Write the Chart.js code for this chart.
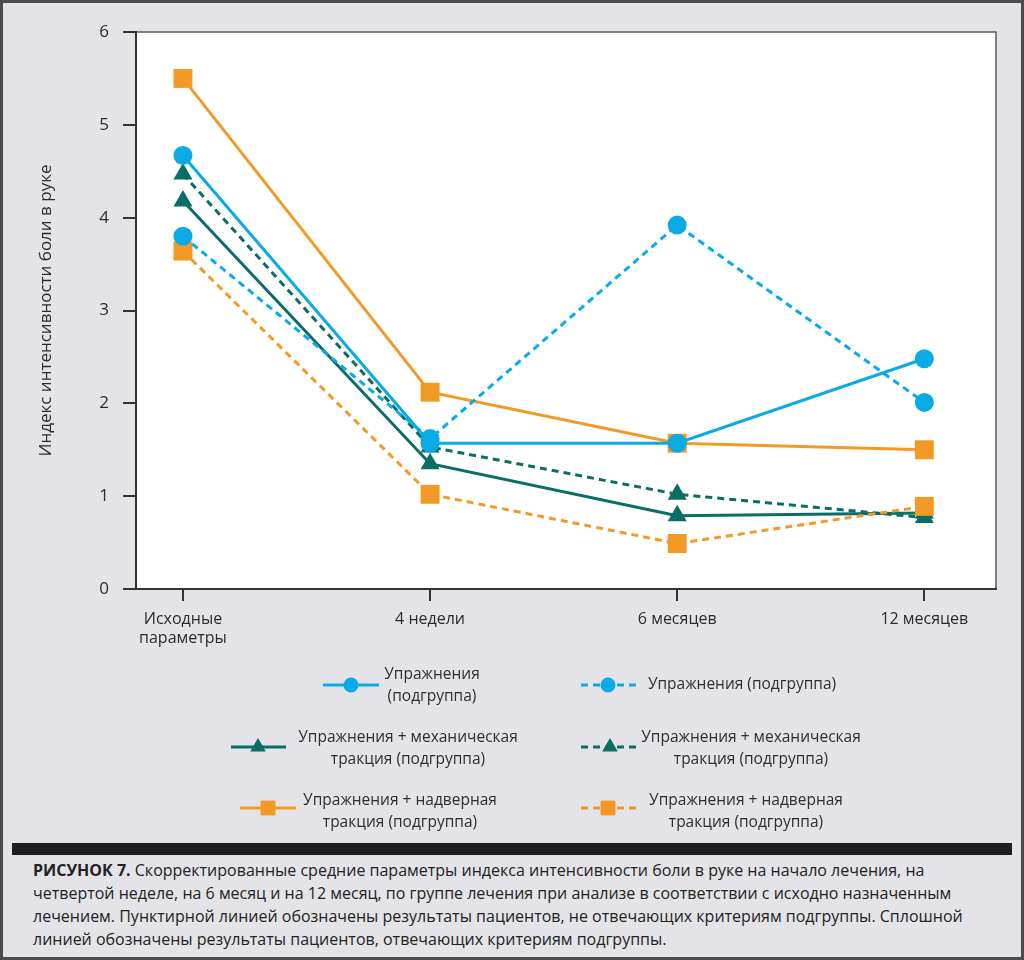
<!DOCTYPE html>
<html lang="ru">
<head>
<meta charset="utf-8">
<title>Рисунок 7</title>
<script src="https://cdn.jsdelivr.net/npm/chart.js@4.4.1/dist/chart.umd.min.js"></script>
<style>
  html, body { margin: 0; padding: 0; }
  body {
    width: 1024px; height: 960px; position: relative; overflow: hidden;
    background: #e4e4e8; font-family: "Open Sans", "Noto Sans", sans-serif;
  }
  #frame {
    position: absolute; left: 0; top: 0; width: 1024px; height: 960px;
    box-sizing: border-box; border: 3px solid #4b4b4f; pointer-events: none;
  }
  #chart-box { position: absolute; left: 0; top: 0; width: 1024px; height: 835px; }
  #bar { position: absolute; left: 12px; top: 843px; width: 1000px; height: 12px; background: #1e1e1e; }
  #caption {
    position: absolute; left: 33px; top: 859px; font-size: 16px; line-height: 23px;
    color: #222; white-space: nowrap;
  }
</style>
</head>
<body>
<div id="chart-box"><canvas id="pain-chart"></canvas></div>
<div id="bar"></div>
<div id="caption">
  <div><b>РИСУНОК 7.</b> Скорректированные средние параметры индекса интенсивности боли в руке на начало лечения, на</div>
  <div>четвертой неделе, на 6 месяц и на 12 месяц, по группе лечения при анализе в соответствии с исходно назначенным</div>
  <div>лечением. Пунктирной линией обозначены результаты пациентов, не отвечающих критериям подгруппы. Сплошной</div>
  <div>линией обозначены результаты пациентов, отвечающих критериям подгруппы.</div>
</div>
<div id="frame"></div>

<script>
// time points on the x axis
const categories = [['Исходные', 'параметры'], '4 недели', '6 месяцев', '12 месяцев'];

// mean pain index values
const exerciseSolid  = [4.67, 1.57, 1.57, 2.48];
const exerciseDashed = [3.80, 1.62, 3.92, 2.01];
const mechSolid      = [4.18, 1.35, 0.79, 0.82];
const mechDashed     = [4.47, 1.53, 1.02, 0.77];
const doorSolid      = [5.50, 2.12, 1.57, 1.50];
const doorDashed     = [3.64, 1.02, 0.49, 0.89];

const legendLabels = [
    ['Упражнения', '(подгруппа)'],
    ['Упражнения (подгруппа)'],
    ['Упражнения + механическая', 'тракция (подгруппа)'],
    ['Упражнения + механическая', 'тракция (подгруппа)'],
    ['Упражнения + надверная', 'тракция (подгруппа)'],
    ['Упражнения + надверная', 'тракция (подгруппа)']
];

const yMin = 0;
const yMax = 6;
const yTitle = 'Индекс интенсивности боли в руке';

const BLUE = '#0aaae6';
const TEAL = '#0b6d68';
const ORANGE = '#f39a26';
const FONT = '"Open Sans", "Noto Sans", sans-serif';
const DASH = [7, 5];

function points(values) {
    return values.map((v, i) => ({ x: i, y: v }));
}

function series(label, values, color, dashed, style, order) {
    let radius = 9.5;
    if (style === 'rect') radius = 13.4;
    if (style === 'triangle') radius = 11;
    return {
        label: label.join(' '),
        data: points(values),
        borderColor: color,
        backgroundColor: color,
        borderWidth: 3,
        borderDash: dashed ? DASH : [],
        pointStyle: style,
        pointRadius: radius,
        pointBorderWidth: 0,
        pointBackgroundColor: color,
        tension: 0,
        order: order,
        clip: false
    };
}

const datasets = [
    series(legendLabels[0], exerciseSolid, BLUE, false, 'circle', 1),
    series(legendLabels[1], exerciseDashed, BLUE, true, 'circle', 2),
    series(legendLabels[2], mechSolid, TEAL, false, 'triangle', 6),
    series(legendLabels[3], mechDashed, TEAL, true, 'triangle', 5),
    series(legendLabels[4], doorSolid, ORANGE, false, 'rect', 3),
    series(legendLabels[5], doorDashed, ORANGE, true, 'rect', 4)
];

// where each legend entry sits under the plot (line start/end, marker, text centre)
const legendSlots = [
    { x1: 323, x2: 379, mx: 351, y: 685, tx: 432, ty: 686 },
    { x1: 581, x2: 638, mx: 608, y: 685, tx: 742, ty: 685 },
    { x1: 231, x2: 286, mx: 258, y: 747, tx: 408, ty: 749 },
    { x1: 581, x2: 638, mx: 610, y: 747, tx: 751, ty: 749 },
    { x1: 240, x2: 296, mx: 268, y: 808, tx: 400, ty: 812 },
    { x1: 581, x2: 638, mx: 608, y: 808, tx: 746, ty: 812 }
];

const plotBackground = {
    id: 'plotBackground',
    beforeDraw(chart) {
        const { ctx, chartArea: a } = chart;
        ctx.save();
        ctx.fillStyle = '#ffffff';
        ctx.fillRect(a.left, a.top, a.right - a.left, a.bottom - a.top);
        ctx.strokeStyle = '#5a5b60';
        ctx.lineWidth = 1.5;
        ctx.beginPath();
        ctx.moveTo(a.left, a.top);
        ctx.lineTo(a.right, a.top);
        ctx.lineTo(a.right, a.bottom);
        ctx.stroke();
        ctx.restore();
    }
};

const bottomLegend = {
    id: 'bottomLegend',
    afterDraw(chart) {
        const ctx = chart.ctx;
        chart.data.datasets.forEach((ds, i) => {
            const slot = legendSlots[i];
            ctx.save();
            ctx.strokeStyle = ds.borderColor;
            ctx.lineWidth = 3;
            ctx.setLineDash(ds.borderDash);
            ctx.beginPath();
            ctx.moveTo(slot.x1, slot.y);
            ctx.lineTo(slot.x2, slot.y);
            ctx.stroke();
            ctx.setLineDash([]);

            let r = 7.5;
            if (ds.pointStyle === 'rect') r = 10.5;
            if (ds.pointStyle === 'triangle') r = 9;
            ctx.fillStyle = ds.borderColor;
            Chart.helpers.drawPoint(ctx, { pointStyle: ds.pointStyle, radius: r, rotation: 0, borderWidth: 0 }, slot.mx, slot.y);

            const lines = legendLabels[i];
            ctx.fillStyle = '#2e2e2e';
            ctx.font = '15.5px ' + FONT;
            ctx.textAlign = 'center';
            ctx.textBaseline = 'middle';
            const lh = 22;
            const top = slot.ty - (lines.length - 1) * lh / 2;
            lines.forEach((t, k) => ctx.fillText(t, slot.tx, top + k * lh));
            ctx.restore();
        });
    }
};

const ctx = document.getElementById('pain-chart').getContext('2d');
window.painChart = new Chart(ctx, {
    type: 'line',
    data: { datasets: datasets },
    plugins: [plotBackground, bottomLegend],
    options: {
        responsive: true,
        maintainAspectRatio: false,
        animation: false,
        layout: { padding: { top: 32, right: 28, bottom: 186, left: 0 } },
        plugins: {
            legend: { display: false },
            tooltip: { enabled: false }
        },
        scales: {
            x: {
                type: 'linear',
                min: -0.19,
                max: 3.29,
                afterFit: scale => { scale.height = 60; },
                afterBuildTicks: scale => {
                    scale.ticks = categories.map((c, i) => ({ value: i }));
                },
                ticks: {
                    callback: value => categories[value],
                    color: '#2b2b2b',
                    font: { family: FONT, size: 16 },
                    padding: 9,
                    maxRotation: 0,
                    autoSkip: false
                },
                grid: { drawOnChartArea: false, tickLength: 12, color: '#333', lineWidth: 2 },
                border: { color: '#333', width: 2 }
            },
            y: {
                min: yMin,
                max: yMax,
                afterFit: scale => { scale.width = 136; },
                ticks: {
                    stepSize: 1,
                    color: '#2b2b2b',
                    font: { family: FONT, size: 17 },
                    padding: 14
                },
                title: {
                    display: true,
                    text: yTitle,
                    color: '#2b2b2b',
                    font: { family: FONT, size: 17 },
                    padding: { top: 36, bottom: 0 }
                },
                grid: { drawOnChartArea: false, tickLength: 13, color: '#333', lineWidth: 2 },
                border: { color: '#333', width: 2 }
            }
        }
    }
});
</script>
</body>
</html>
